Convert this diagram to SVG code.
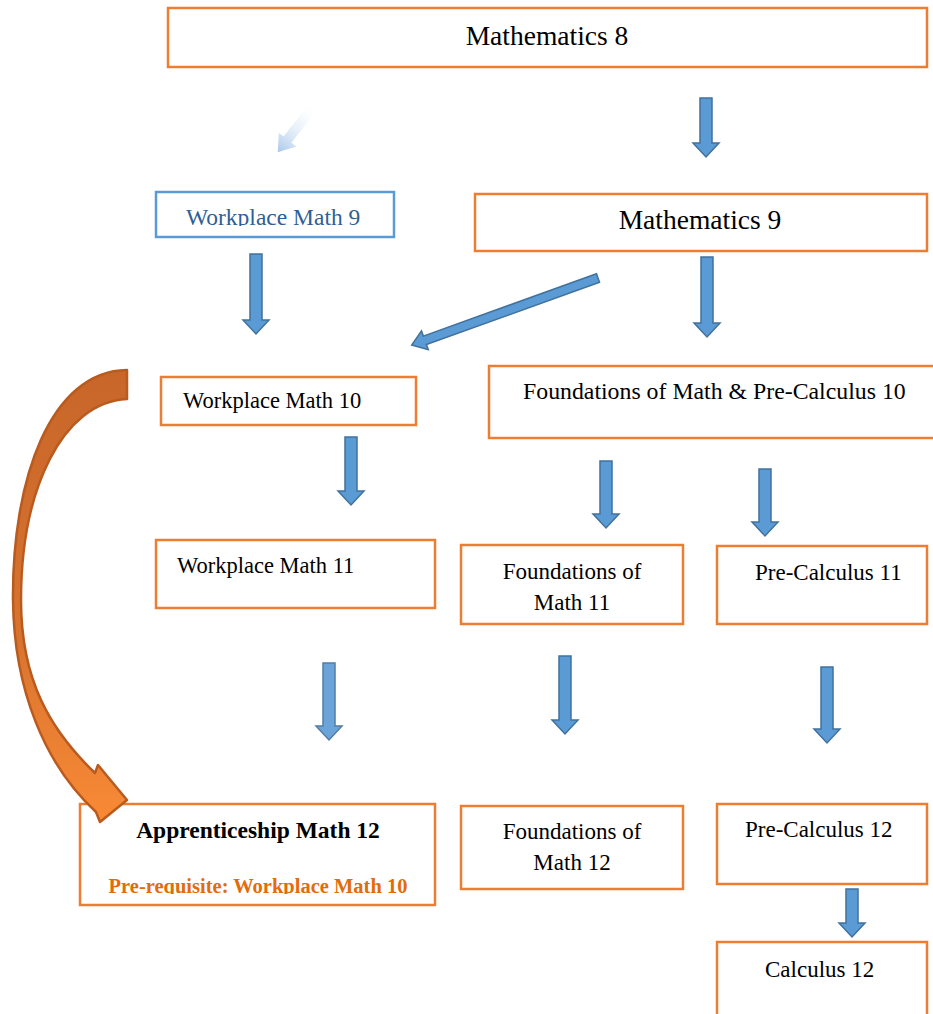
<svg xmlns="http://www.w3.org/2000/svg" width="933" height="1014" viewBox="0 0 933 1014">
<style>
.box{fill:#fff;stroke:#ED7D31;stroke-width:2.5}
.bbox{fill:#fff;stroke:#5B9BD5;stroke-width:2.5}
text{font-family:'Liberation Serif','Times New Roman',serif;font-size:23px;fill:#000}
.big{font-size:27.5px}
.arr{fill:#5B9BD5;stroke:#41719C;stroke-width:1.5;stroke-linejoin:miter}
</style>
<defs>
<linearGradient id="fade" x1="0" y1="0" x2="1" y2="0">
<stop offset="0" stop-color="#FFFFFF" stop-opacity="0.2"/>
<stop offset="1" stop-color="#A9C8EA"/>
</linearGradient>
<linearGradient id="orng" x1="0" y1="0" x2="0" y2="1">
<stop offset="0" stop-color="#C8662A"/>
<stop offset="0.6" stop-color="#D9742F"/>
<stop offset="1" stop-color="#F98A36"/>
</linearGradient>
<clipPath id="c9"><rect x="150" y="180" width="260" height="46"/></clipPath>
<clipPath id="cpr"><rect x="80" y="860" width="360" height="34"/></clipPath>
</defs>

<g id="n-math8">
<rect class="box" x="168" y="8" width="759" height="59"/>
<text class="big" x="547" y="45" text-anchor="middle">Mathematics 8</text>
</g>
<g id="n-wm9">
<rect class="bbox" x="156" y="192" width="238" height="45"/>
<text x="186" y="225" clip-path="url(#c9)" style="fill:#2F5F96;font-size:23.5px">Workplace Math 9</text>
</g>
<g id="n-math9">
<rect class="box" x="475" y="194" width="452" height="57"/>
<text class="big" x="700" y="229" text-anchor="middle">Mathematics 9</text>
</g>
<g id="n-wm10">
<rect class="box" x="161" y="377" width="255" height="48"/>
<text x="183" y="408" style="font-size:22.5px">Workplace Math 10</text>
</g>
<g id="n-fpc10">
<rect class="box" x="489" y="366" width="460" height="72"/>
<text x="523" y="399" style="font-size:23.8px">Foundations of Math &amp; Pre-Calculus 10</text>
</g>
<g id="n-wm11">
<rect class="box" x="156" y="540" width="279" height="68"/>
<text x="177" y="573" style="font-size:22.5px">Workplace Math 11</text>
</g>
<g id="n-fm11">
<rect class="box" x="461" y="545" width="222" height="79"/>
<text x="572" y="579" text-anchor="middle">Foundations of</text>
<text x="572" y="610" text-anchor="middle">Math 11</text>
</g>
<g id="n-pc11">
<rect class="box" x="717" y="546" width="210" height="78"/>
<text x="755" y="580">Pre-Calculus 11</text>
</g>
<g id="n-am12">
<rect class="box" x="80" y="804" width="355" height="101"/>
<text x="258" y="838" text-anchor="middle" style="font-weight:bold;font-size:23.5px">Apprenticeship Math 12</text>
<text x="258" y="893" text-anchor="middle" clip-path="url(#cpr)" style="font-weight:bold;font-size:20.5px;fill:#E36C0A">Pre-requisite: Workplace Math 10</text>
</g>
<g id="n-fm12">
<rect class="box" x="461" y="806" width="222" height="83"/>
<text x="572" y="839" text-anchor="middle">Foundations of</text>
<text x="572" y="870" text-anchor="middle">Math 12</text>
</g>
<g id="n-pc12">
<rect class="box" x="717" y="804" width="210" height="80"/>
<text x="745" y="837">Pre-Calculus 12</text>
</g>
<g id="n-calc12">
<rect class="box" x="717" y="942" width="210" height="90"/>
<text x="765" y="977">Calculus 12</text>
</g>

<g id="connectors">
<path class="arr" d="M700,98 H712 V143 H719 L706,157 L693,143 H700 Z"/>
<path d="M0,-5 H40 V-11 L56,0 L40,11 V5 H0 Z" fill="url(#fade)" transform="translate(312,108) rotate(127.7)"/>
<path class="arr" d="M250,254 H262 V320 H269 L256,334 L243,320 H250 Z"/>
<path class="arr" d="M701,257 H713 V323 H720 L707,337 L694,323 H701 Z"/>
<path class="arr" d="M0,-4.5 H184 V-10 L198,0 L184,10 V4.5 H0 Z" transform="translate(598,278) rotate(160.2)"/>
<path class="arr" d="M345,437 H357 V491 H364 L351,505 L338,491 H345 Z"/>
<path class="arr" d="M600,461 H612 V514 H619 L606,528 L593,514 H600 Z"/>
<path class="arr" d="M759,469 H771 V522 H778 L765,536 L752,522 H759 Z"/>
<path class="arr" d="M323,663 H335 V726 H342 L329,740 L316,726 H323 Z" opacity="0.9"/>
<path class="arr" d="M559,656 H571 V720 H578 L565,734 L552,720 H559 Z"/>
<path class="arr" d="M821,667 H833 V729 H840 L827,743 L814,729 H821 Z"/>
<path class="arr" d="M846,889 H858 V923 H865 L852,937 L839,923 H846 Z"/>
<path d="M127,370 C50,371 12,480 13,600 C14,690 45,765 96,812 L100,822 L127,800 L98,765 L95,773 C50,730 21,680 21,600 C21,490 62,402 127,399 Z" fill="url(#orng)" stroke="#B95B1E" stroke-width="2.5" stroke-linejoin="round"/>
</g>
</svg>
